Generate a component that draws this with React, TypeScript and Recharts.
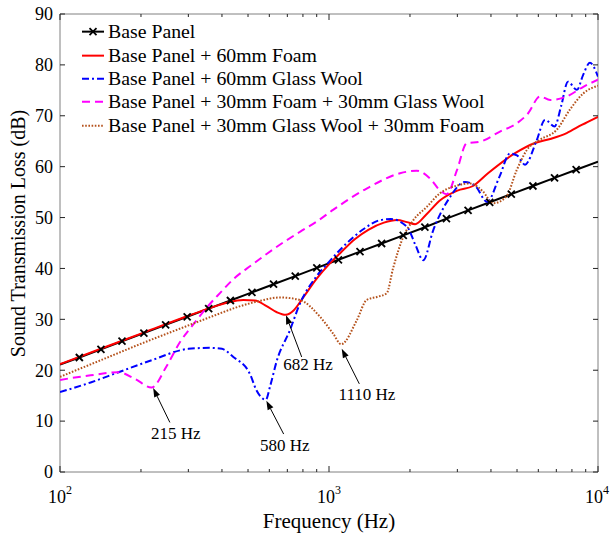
import React from 'react';
import { LineChart, Line, XAxis, YAxis, Legend, ReferenceArea, ReferenceDot } from 'recharts';

const FONT = '"Liberation Serif", "Times New Roman", serif';

// [frequency (Hz), sound transmission loss (dB)]
const basePanel: [number, number][] = [
  [100, 21.1], [118, 22.5], [142, 24.1], [170, 25.7], [205, 27.3], [247, 28.9], [297, 30.5],
  [357, 32.1], [430, 33.7], [517, 35.3], [622, 36.9], [749, 38.5], [901, 40.1], [1084, 41.7],
  [1304, 43.3], [1569, 44.9], [1888, 46.5], [2272, 48.1], [2733, 49.8], [3289, 51.4],
  [3957, 53.0], [4761, 54.6], [5729, 56.2], [6893, 57.8], [8294, 59.4], [10000, 61.0],
];

const foam60: [number, number][] = [
  [100, 21.2], [150, 24.7], [200, 27.2], [300, 30.7], [360, 32.2], [420, 33.3], [480, 33.8],
  [530, 33.7], [586, 32.6], [640, 31.4], [690, 30.9], [740, 31.8], [800, 34.2], [900, 38.0],
  [1000, 40.8], [1100, 43.0], [1250, 45.8], [1400, 47.6], [1600, 49.0], [1790, 49.5],
  [1950, 49.1], [2090, 48.7], [2300, 50.6], [2590, 53.4], [3000, 55.3], [3430, 56.2],
  [3900, 58.7], [4900, 62.6], [5800, 64.6], [6700, 65.5], [7650, 66.6], [8700, 68.2], [10000, 69.8],
];

const glassWool60: [number, number][] = [
  [100, 15.7], [130, 17.6], [165, 19.6], [220, 22.0], [300, 24.2], [360, 24.4], [400, 24.2],
  [441, 22.6], [508, 19.3], [538, 16.0], [582, 14.2], [605, 17.0], [640, 21.9], [716, 27.9],
  [780, 33.1], [900, 38.5], [1000, 41.3], [1150, 44.7], [1350, 47.8], [1550, 49.5], [1700, 49.7],
  [1950, 48.2], [2100, 44.5], [2240, 41.6], [2440, 47.5], [2800, 53.8], [3200, 57.0], [3500, 56.2],
  [3870, 53.1], [4300, 58.0], [4710, 62.6], [5000, 62.2], [5355, 60.4], [5900, 65.0], [6357, 69.2],
  [6900, 67.9], [7300, 72.0], [7730, 76.7], [8350, 75.1], [8800, 78.0], [9330, 80.4], [10000, 77.7],
];

const foamGlassWool: [number, number][] = [
  [100, 18.1], [130, 19.0], [165, 19.6], [190, 18.3], [219, 16.6], [249, 20.8], [279, 25.5],
  [313, 29.0], [351, 32.3], [394, 35.2], [441, 37.9], [520, 40.8], [588, 42.9], [680, 45.2],
  [780, 47.2], [900, 49.2], [1035, 51.5], [1380, 55.7], [1837, 58.7], [2118, 59.2], [2372, 57.7],
  [2590, 55.3], [2740, 54.6], [2990, 59.3], [3250, 64.6], [3640, 64.9], [4320, 66.9], [4990, 68.5],
  [5500, 70.5], [6090, 73.8], [6640, 73.1], [7650, 73.8], [8820, 75.7], [10000, 77.1],
];

const glassWoolFoam: [number, number][] = [
  [100, 18.7], [150, 22.5], [200, 25.2], [300, 28.8], [377, 30.8], [450, 32.3], [550, 33.6],
  [658, 34.3], [780, 33.8], [926, 30.5], [1036, 27.2], [1110, 25.1], [1268, 29.8], [1380, 33.8],
  [1506, 34.4], [1638, 35.1], [1730, 40.0], [1888, 46.2], [2059, 49.5], [2309, 52.1], [2588, 54.8],
  [3000, 56.3], [3341, 56.7], [3738, 55.1], [4072, 52.8], [4558, 54.1], [4985, 59.3], [5442, 63.3],
  [6086, 65.3], [7012, 67.2], [7860, 71.2], [8817, 74.4], [10000, 75.9],
];

const yTicks = [0, 10, 20, 30, 40, 50, 60, 70, 80, 90];
const xMajor = [100, 1000, 10000];
const xTicks = [100, 200, 300, 400, 500, 600, 700, 800, 900, 1000, 2000, 3000, 4000, 5000, 6000, 7000, 8000, 9000, 10000];

const annotations = [
  { f: 222, db: 16.5, label: '215 Hz', dx: 16.7, dy: 34.4, tx: 6, ty: 16.6 },
  { f: 585, db: 14.0, label: '580 Hz', dx: 17.3, dy: 33.3, tx: 1.2, ty: 17.4 },
  { f: 692, db: 30.8, label: '682 Hz', dx: 15.7, dy: 41.7, tx: 6.3, ty: 13.3 },
  { f: 1115, db: 24.2, label: '1110 Hz', dx: 17.6, dy: 35, tx: 7.7, ty: 16 },
];

const series = [
  { name: 'Base Panel', pts: basePanel, color: '#000000', dash: undefined as string | undefined, curve: 'linear', marker: true },
  { name: 'Base Panel + 60mm Foam', pts: foam60, color: '#ff0000', dash: undefined, curve: 'monotone', marker: false },
  { name: 'Base Panel + 60mm Glass Wool', pts: glassWool60, color: '#0000ff', dash: '7 3 2 3', curve: 'monotone', marker: false },
  { name: 'Base Panel + 30mm Foam + 30mm Glass Wool', pts: foamGlassWool, color: '#ff00ff', dash: '8 5', curve: 'monotone', marker: false },
  { name: 'Base Panel + 30mm Glass Wool + 30mm Foam', pts: glassWoolFoam, color: '#b5521c', dash: '1.6 1.6', curve: 'monotone', marker: false },
];

const W = 611;
const H = 535;
const PLOT = { left: 60, top: 14, right: 598, bottom: 472 };

const XTick = (props: any) => {
  const { x, payload } = props;
  const major = xMajor.includes(payload.value);
  const len = major ? 6 : 3;
  const exp = Math.round(Math.log10(payload.value));
  const shift = payload.value === 10000 ? -1 : 0;
  return (
    <g>
      <line x1={x} x2={x} y1={PLOT.bottom} y2={PLOT.bottom - len} stroke="#222" />
      <line x1={x} x2={x} y1={PLOT.top} y2={PLOT.top + len} stroke="#222" />
      {major && (
        <text x={x + shift} y={PLOT.bottom + 31} textAnchor="middle" fontFamily={FONT} fontSize={18} fill="#000">
          10<tspan dy={-9} fontSize={12}>{exp}</tspan>
        </text>
      )}
    </g>
  );
};

const YTick = (props: any) => {
  const { y, payload } = props;
  return (
    <g>
      <line x1={PLOT.left} x2={PLOT.left + 5} y1={y} y2={y} stroke="#222" />
      <line x1={PLOT.right} x2={PLOT.right - 5} y1={y} y2={y} stroke="#222" />
      <text x={PLOT.left - 7} y={y} dy="0.35em" textAnchor="end" fontFamily={FONT} fontSize={18} fill="#000">
        {payload.value}
      </text>
    </g>
  );
};

const XLabel = () => (
  <text x={(PLOT.left + PLOT.right) / 2} y={528} textAnchor="middle" fontFamily={FONT} fontSize={21} fill="#000">
    Frequency (Hz)
  </text>
);

const YLabel = () => (
  <text
    x={25}
    y={233.5}
    transform={`rotate(-90 25 233.5)`}
    textAnchor="middle"
    fontFamily={FONT}
    fontSize={20}
    fill="#000"
  >
    Sound Transmission Loss (dB)
  </text>
);

const XMark = ({ cx, cy, color }: { cx: number; cy: number; color: string }) => (
  <g stroke={color} strokeWidth={1.8}>
    <line x1={cx - 3.5} y1={cy - 3.5} x2={cx + 3.5} y2={cy + 3.5} />
    <line x1={cx - 3.5} y1={cy + 3.5} x2={cx + 3.5} y2={cy - 3.5} />
  </g>
);

const LegendBox = () => (
  <div style={{ fontFamily: FONT, fontSize: 19.8, color: '#000' }}>
    {series.map((s) => (
      <div key={s.name} style={{ display: 'flex', alignItems: 'center', height: 23.3, whiteSpace: 'nowrap' }}>
        <svg width={26} height={23.3} style={{ flex: 'none' }}>
          <line x1={0} x2={22} y1={11.65} y2={11.65} stroke={s.color} strokeWidth={2} strokeDasharray={s.dash} />
          {s.marker && <XMark cx={11} cy={11.65} color={s.color} />}
        </svg>
        <span style={{ lineHeight: '23.3px' }}>{s.name}</span>
      </div>
    ))}
  </div>
);

const Annotation = (props: any) => {
  const { cx, cy, a } = props;
  if (cx == null || cy == null) return <g />;
  const tx = cx + a.dx;
  const ty = cy + a.dy;
  const len = Math.hypot(a.dx, a.dy);
  const ux = -a.dx / len;
  const uy = -a.dy / len;
  const bx = cx - ux * 9;
  const by = cy - uy * 9;
  const nx = -uy * 3.2;
  const ny = ux * 3.2;
  return (
    <g>
      <line x1={tx} y1={ty} x2={bx} y2={by} stroke="#000" strokeWidth={1} />
      <polygon points={`${cx},${cy} ${bx + nx},${by + ny} ${bx - nx},${by - ny}`} fill="#000" />
      <text x={tx + a.tx} y={ty + a.ty} textAnchor="middle" fontFamily={FONT} fontSize={17} fill="#000">
        {a.label}
      </text>
    </g>
  );
};

export default function App() {
  return (
    <div style={{ position: 'fixed', left: 0, top: 0, width: W, height: H, background: '#fff' }}>
      <LineChart width={W} height={H} margin={{ top: PLOT.top, right: W - PLOT.right, bottom: 0, left: 0 }}>
        <ReferenceArea x1={100} x2={10000} y1={0} y2={90} fill="none" stroke="#808080" strokeWidth={1} ifOverflow="visible" />
        <XAxis
          dataKey="f"
          type="number"
          scale="log"
          domain={[100, 10000]}
          ticks={xTicks}
          interval={0}
          tick={<XTick />}
          tickLine={false}
          axisLine={false}
          height={H - PLOT.bottom}
          allowDataOverflow
          label={<XLabel />}
        />
        <YAxis
          type="number"
          domain={[0, 90]}
          ticks={yTicks}
          interval={0}
          tick={<YTick />}
          tickLine={false}
          axisLine={false}
          width={PLOT.left}
          allowDataOverflow
          label={<YLabel />}
        />
        <Legend
          layout="vertical"
          align="center"
          verticalAlign="middle"
          content={<LegendBox />}
          wrapperStyle={{ top: 20.35, left: 82, width: 'auto' }}
        />
        {series.map((s) => (
          <Line
            key={s.name}
            data={s.pts.map(([f, v]) => ({ f, v }))}
            dataKey="v"
            name={s.name}
            type={s.curve as any}
            stroke={s.color}
            strokeWidth={2}
            strokeDasharray={s.dash}
            isAnimationActive={false}
            activeDot={false}
            dot={
              s.marker
                ? (p: any) =>
                    p.index === 0 || p.index === s.pts.length - 1 ? (
                      <g key={`d${p.index}`} />
                    ) : (
                      <XMark key={`d${p.index}`} cx={p.cx} cy={p.cy} color={s.color} />
                    )
                : false
            }
          />
        ))}
        {annotations.map((a) => (
          <ReferenceDot
            key={a.label}
            x={a.f}
            y={a.db}
            r={0}
            ifOverflow="visible"
            shape={(p: any) => <Annotation {...p} a={a} />}
          />
        ))}
      </LineChart>
    </div>
  );
}
